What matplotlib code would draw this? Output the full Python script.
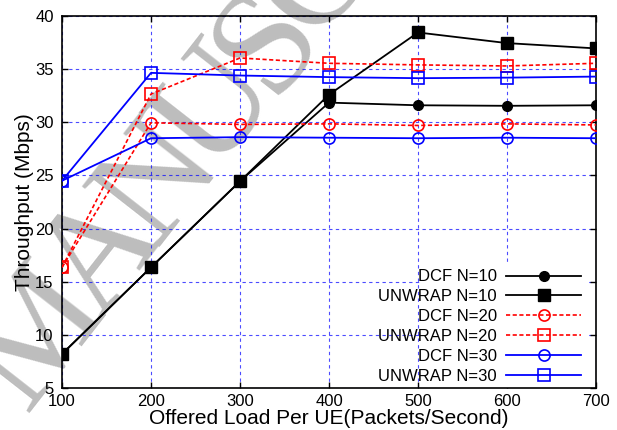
import matplotlib
matplotlib.use('Agg')
import matplotlib.pyplot as plt
from matplotlib.patches import Rectangle
import numpy as np

plt.rcParams['font.family'] = ['Liberation Sans', 'DejaVu Sans']

# offered load per UE (packets/second)
load = [100, 200, 300, 400, 500, 600, 700]

# throughput in Mbps
dcf_10 = [8.2, 16.35, 24.45, 31.85, 31.6, 31.55, 31.6]
unwrap_10 = [8.2, 16.35, 24.45, 32.6, 38.45, 37.45, 36.95]
dcf_20 = [16.35, 29.95, 29.8, 29.85, 29.7, 29.85, 29.75]
unwrap_20 = [16.35, 32.65, 36.05, 35.55, 35.4, 35.3, 35.55]
dcf_30 = [24.5, 28.5, 28.6, 28.55, 28.5, 28.55, 28.5]
unwrap_30 = [24.5, 34.65, 34.4, 34.25, 34.15, 34.2, 34.3]

labels = ['DCF N=10', 'UNWRAP N=10', 'DCF N=20', 'UNWRAP N=20', 'DCF N=30', 'UNWRAP N=30']

xticks = [100, 200, 300, 400, 500, 600, 700]
yticks = [5, 10, 15, 20, 25, 30, 35, 40]

W, H = 617, 430
fig = plt.figure(figsize=(W/100, H/100), dpi=100)
ax = fig.add_axes([62/W, 1-388/H, 534/W, 372/H])
ax.patch.set_visible(False)

# watermark of the accepted-manuscript page, behind the plot
# letters placed one by one (tight tracking, like the page stamp)
wm_letters = 'MANUSCRIPT'
wm_adv = [.889, .722, .722, .722, .556, .667, .667, .333, .556, .611]
ang = np.radians(52)
b = np.array([np.cos(ang), -np.sin(ang)])   # along baseline, pixel coords (y down)
u = np.array([-np.sin(ang), -np.cos(ang)])  # glyph "up"
step = 130      # px per em of advance
glyph = 150     # px per em of glyph size
centers = np.cumsum(wm_adv) - np.array(wm_adv) / 2
u_ref = np.array([208, 100])  # centre of the U
for ch, c in zip(wm_letters, centers):
    p = u_ref + (c - centers[3]) * step * b - 0.33 * glyph * u
    fig.text(p[0]/W, 1-p[1]/H, ch, family=['Liberation Serif', 'DejaVu Serif'],
             fontsize=glyph*0.72, color='#bdbdbd', rotation=52, rotation_mode='anchor',
             ha='center', va='baseline', zorder=-1)

red_dash = (0, (2.5, 1.5))
ax.plot(load, dcf_10, color='black', lw=1.3, marker='o', ms=7, label=labels[0], zorder=3)
ax.plot(load, unwrap_10, color='black', lw=1.3, marker='s', ms=8, label=labels[1], zorder=3)
ax.plot(load, dcf_20, color='red', lw=1.2, ls=red_dash, marker='o', ms=8,
        mfc='none', mew=1.2, label=labels[2], zorder=3)
ax.plot(load, unwrap_20, color='red', lw=1.2, ls=red_dash, marker='s', ms=8,
        mfc='none', mew=1.2, label=labels[3], zorder=3)
ax.plot(load, dcf_30, color='blue', lw=1.3, marker='o', ms=8,
        mfc='none', mew=1.2, label=labels[4], zorder=3)
ax.plot(load, unwrap_30, color='blue', lw=1.3, marker='s', ms=8,
        mfc='none', mew=1.2, label=labels[5], zorder=3)

ax.set_xlim(100, 700)
ax.set_ylim(5, 40)
ax.set_xticks(xticks)
ax.set_yticks(yticks)
ax.grid(True, color='blue', lw=0.8, ls=(0, (3, 3)), alpha=0.7)
ax.tick_params(direction='in', top=True, right=True, length=4, width=1,
               labelsize=12, colors='black')
ax.tick_params(axis='x', pad=4)
ax.tick_params(axis='y', pad=6)
for s in ax.spines.values():
    s.set_linewidth(1.2)

# white area under the key hides the grid there (gnuplot style)
ax.add_patch(Rectangle((0.672, 0.0), 0.313, 0.336, transform=ax.transAxes,
                       facecolor='white', edgecolor='none', zorder=1.8))

ax.set_xlabel('Offered Load Per UE(Packets/Second)', fontsize=15, labelpad=0)
ax.set_ylabel('Throughput (Mbps)', fontsize=15, labelpad=1)

leg = ax.legend(loc='lower right', bbox_to_anchor=(0.972, 0.012), frameon=False,
                markerfirst=False, fontsize=12, handlelength=4.5, handletextpad=0.55,
                labelspacing=0.29, borderpad=0, borderaxespad=0)
leg.set_zorder(4)

fig.savefig('out.png', dpi=100)
